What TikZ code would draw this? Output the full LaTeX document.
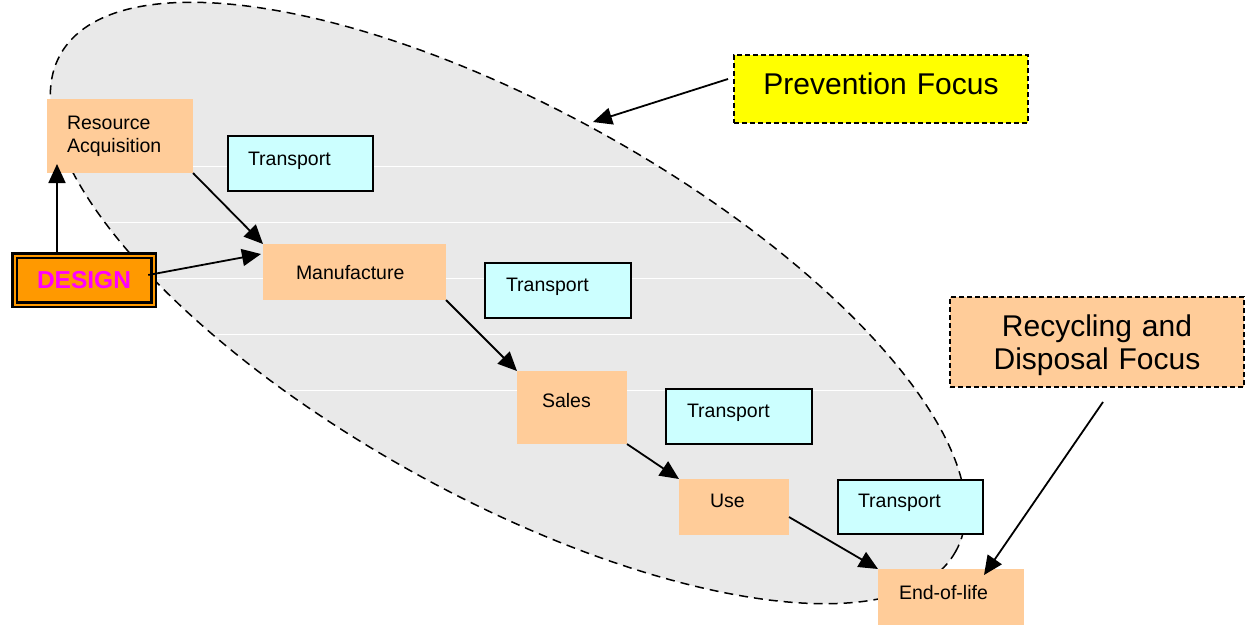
\documentclass[tikz,border=0pt]{standalone}
\usepackage{fontspec}
\setmainfont{Liberation Sans}
\usetikzlibrary{arrows.meta,calc}
\definecolor{peach}{HTML}{FFCC99}
\definecolor{transcyan}{HTML}{CCFFFF}
\definecolor{zonegrey}{HTML}{E9E9E9}
\definecolor{designorange}{HTML}{FF9900}
\definecolor{designmagenta}{HTML}{FF00FF}
\definecolor{focusyellow}{HTML}{FFFF00}
\begin{document}
\begin{tikzpicture}[x=1pt,y=-1pt,
  every node/.style={font=\fontsize{19.5}{23}\selectfont},
  % stage box: width, height, left padding, first baseline below top
  stage/.style n args={4}{anchor=north west, fill=peach, outer sep=0pt,
    inner ysep=0pt, inner xsep=#3, text width={#1-2*(#3)},
    text height=#4, text depth={#2-(#4)}, align=left},
  transport/.style n args={4}{stage={#1}{#2}{#3}{#4}, fill=transcyan,
    draw=black, line width=1.6pt},
  % focus callout: width, height, first baseline below top
  focus/.style n args={3}{anchor=north west, draw=black,
    dash pattern=on 5pt off 3pt, line width=1.4pt, outer sep=0pt,
    inner xsep=10pt, inner ysep=0pt, text width={#1-20},
    text height=#3, text depth={#2-(#3)}, align=center,
    font=\fontsize{30}{33.3}\selectfont},
  design/.style={draw=black, line width=2.5pt, double=designorange,
    double distance=2pt, fill=designorange, minimum width=139pt,
    minimum height=49pt, inner sep=0pt, text=designmagenta,
    font=\fontsize{24.5}{28}\selectfont\bfseries},
  conn/.style={line width=1.8pt, -{Triangle[length=19pt,width=17pt]}},
  zone/.style={rotate around={-29:(508,303)}},
]
\useasboundingbox (0,0) rectangle (1246,624);

% prevention zone: grey ellipse with faint white rules and dashed rim
\fill[zonegrey, zone] (508,303) ellipse [x radius=512, y radius=194];
\begin{scope}
  \clip[zone] (508,303) ellipse [x radius=512, y radius=194];
  \foreach \yy in {166,222,278,334,390}
    \draw[white, line width=1pt] (0,\yy) -- (1246,\yy);
\end{scope}
\draw[zone, line width=1.5pt, dash pattern=on 9pt off 6pt]
  (508,303) ellipse [x radius=512, y radius=194];

% life-cycle stages (second line of a two-line label sits in the depth)
\node[stage={146}{74}{20}{30.3}]      (res) at (47,99) {Resource\\Acquisition};
\node[transport={145}{55}{20}{29}]    (tr1) at (228,136) {Transport};
\node[stage={183}{56}{33}{35.7}]      (man) at (263,244) {Manufacture};
\node[transport={146}{55}{21}{28.7}]  (tr2) at (485,263) {Transport};
\node[stage={110}{73}{25}{36.3}]      (sal) at (517,371) {Sales};
\node[transport={146}{55}{21}{28.3}]  (tr3) at (666,389) {Transport};
\node[stage={110}{56}{31}{28.3}]      (use) at (679,479) {Use};
\node[transport={145}{54}{20}{27.3}]  (tr4) at (838,480) {Transport};
\node[stage={146}{56}{21}{30}]        (eol) at (878,569) {End-of-life};

% design box
\node[design] (des) at (84,280) {DESIGN};

% focus callouts
\node[focus={294}{68}{39.5}, fill=focusyellow] (prev) at (734,55) {Prevention Focus};
\node[focus={294}{90}{39.5}, fill=peach] (rec) at (950,297) {Recycling and\\Disposal Focus};

% connectors
\coordinate (dr) at ($(res.south west)+(10,-9)$);
\coordinate (pf) at (593,122);
\draw[conn] (dr |- des.north) -- (dr);
\draw[conn] ($(des.east)+(-6.5,-5)$) -- ($(man.north west)+(-2,10)$);
\draw[conn] (res.south east) -- (man.north west);
\draw[conn] (man.south east) -- (sal.north west);
\draw[conn] (sal.south east) -- (use.north west);
\draw[conn] ($(use.south east)+(0,-18)$) -- (eol.north west);
\draw[conn] ($(prev.west)+(-6,-10)$) -- (pf);
\draw[conn] ($(rec.south)+(6,15)$) -- ($(eol.north east)+(-40,6)$);
\end{tikzpicture}
\end{document}
